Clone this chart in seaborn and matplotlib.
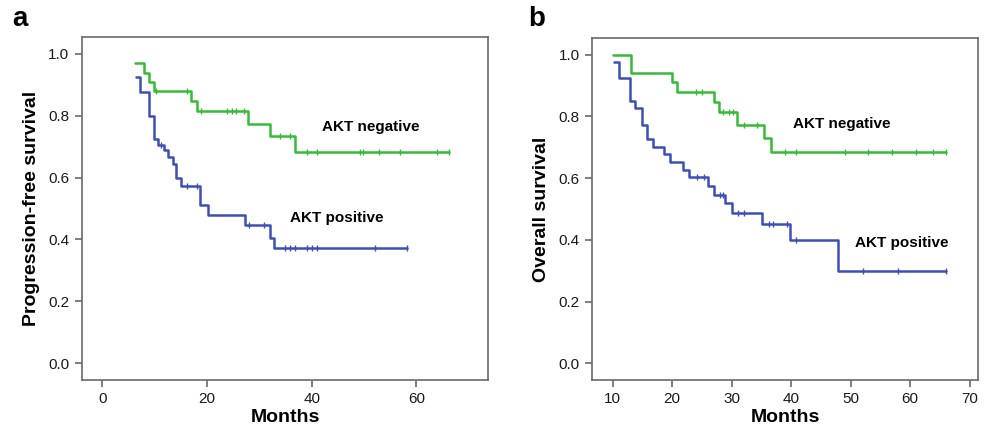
# Kaplan-Meier curves by AKT status: progression-free (a) and overall (b) survival

import matplotlib
matplotlib.use('Agg')
import matplotlib.pyplot as plt
import numpy as np
import pandas as pd
import seaborn as sns

sns.set_style('white')
plt.rcParams['font.family'] = ['Liberation Sans', 'DejaVu Sans']
plt.rcParams['text.color'] = 'black'
plt.rcParams['axes.labelcolor'] = 'black'

# panel a, progression-free survival (step times / survival after step)
neg_pfs_t = [6.2, 8.0, 9.0, 9.8, 16.9, 18.0, 27.9, 32.1, 36.8, 66.2]
neg_pfs_s = [0.970, 0.939, 0.909, 0.879, 0.847, 0.814, 0.774, 0.733, 0.682, 0.682]
neg_pfs_cens = [10.2, 16.1, 18.8, 23.8, 24.7, 25.6, 27.0, 34.0, 35.9, 39.1, 41.0,
                49.3, 49.9, 52.8, 56.9, 63.9, 66.2]

pos_pfs_t = [6.4, 7.1, 9.0, 9.8, 10.7, 11.7, 12.6, 13.5, 14.1, 15.0, 18.7, 20.1,
             27.2, 32.1, 32.9, 58.2]
pos_pfs_s = [0.925, 0.875, 0.800, 0.725, 0.704, 0.688, 0.667, 0.645, 0.597, 0.572,
             0.511, 0.478, 0.446, 0.406, 0.371, 0.371]
pos_pfs_cens = [11.2, 16.1, 18.0, 28.1, 30.8, 34.9, 35.9, 36.8, 39.1, 40.0, 41.0,
                52.1, 58.2]

# panel b, overall survival
neg_os_t = [10.1, 13.1, 20.0, 20.9, 27.1, 27.8, 30.9, 35.5, 36.7, 66.1]
neg_os_s = [1.0, 0.941, 0.910, 0.879, 0.845, 0.814, 0.773, 0.730, 0.683, 0.683]
neg_os_cens = [24.1, 25.0, 28.6, 29.6, 30.3, 32.0, 34.2, 39.0, 40.9, 49.0, 53.0,
               57.0, 61.0, 63.9, 66.1]

pos_os_t = [10.3, 11.0, 13.0, 13.8, 14.9, 15.8, 16.8, 18.7, 19.7, 21.8, 22.8, 26.1,
            27.1, 28.9, 30.0, 35.1, 39.8, 47.9, 66.1]
pos_os_s = [0.975, 0.924, 0.849, 0.827, 0.773, 0.727, 0.701, 0.678, 0.651, 0.627,
            0.603, 0.575, 0.546, 0.519, 0.488, 0.452, 0.398, 0.298, 0.298]
pos_os_cens = [24.2, 25.3, 28.1, 28.6, 31.1, 32.0, 36.2, 36.9, 39.3, 40.9, 52.0,
               58.0, 66.1]

green = '#35bb35'
blue = '#3d4fb4'
spine_col = '#6a6a6a'


def km_curve(ax, t, s, cens, color):
    df = pd.DataFrame({'time': t, 'surv': s})
    sns.lineplot(data=df, x='time', y='surv', ax=ax, color=color, lw=1.8,
                 drawstyle='steps-post', estimator=None, sort=False)
    # censor ticks sit on the step curve
    t_arr = np.array(t)
    idx = np.searchsorted(t_arr, cens, side='right') - 1
    cdf = pd.DataFrame({'time': cens, 'surv': np.array(s)[idx]})
    sns.scatterplot(data=cdf, x='time', y='surv', ax=ax, marker='|', s=24,
                    color=color, linewidth=1.0, zorder=3)


fig = plt.figure(figsize=(9.91, 4.42), dpi=100)
ax1 = fig.add_axes([0.0827, 0.1403, 0.4097, 0.776])
ax2 = fig.add_axes([0.5974, 0.1403, 0.3895, 0.774])

km_curve(ax1, neg_pfs_t, neg_pfs_s, neg_pfs_cens, green)
km_curve(ax1, pos_pfs_t, pos_pfs_s, pos_pfs_cens, blue)
km_curve(ax2, neg_os_t, neg_os_s, neg_os_cens, green)
km_curve(ax2, pos_os_t, pos_os_s, pos_os_cens, blue)

ax1.set_xlim(-3.9, 73.7)
ax1.set_xticks([0, 20, 40, 60])
ax2.set_xlim(6.55, 71.4)
ax2.set_xticks([10, 20, 30, 40, 50, 60, 70])

for ax, ylab in [(ax1, 'Progression-free survival'), (ax2, 'Overall survival')]:
    ax.set_ylim(-0.054, 1.054)
    ax.set_yticks([0.0, 0.2, 0.4, 0.6, 0.8, 1.0])
    ax.set_yticklabels(['0.0', '0.2', '0.4', '0.6', '0.8', '1.0'])
    for sp in ax.spines.values():
        sp.set_visible(True)
        sp.set_color(spine_col)
        sp.set_linewidth(1.2)
    ax.tick_params(axis='both', direction='out', length=5, width=1.2,
                   color=spine_col, labelcolor='#1a1a1a', labelsize=11,
                   left=True, bottom=True, top=False, right=False, pad=4)
    ax.set_xlabel('Months', fontsize=14, fontweight='bold', labelpad=2)
    ax.set_ylabel(ylab, fontsize=14, fontweight='bold', labelpad=6)

ax1.text(42.0, 0.762, 'AKT negative', fontsize=11, fontweight='bold', va='center')
ax1.text(35.9, 0.469, 'AKT positive', fontsize=11, fontweight='bold', va='center')
ax2.text(40.3, 0.776, 'AKT negative', fontsize=11, fontweight='bold', va='center')
ax2.text(50.7, 0.39, 'AKT positive', fontsize=11, fontweight='bold', va='center')

fig.text(0.012, 0.958, 'a', fontsize=20, fontweight='bold', va='center')
fig.text(0.533, 0.958, 'b', fontsize=20, fontweight='bold', va='center')

fig.savefig('out.png', dpi=100)
